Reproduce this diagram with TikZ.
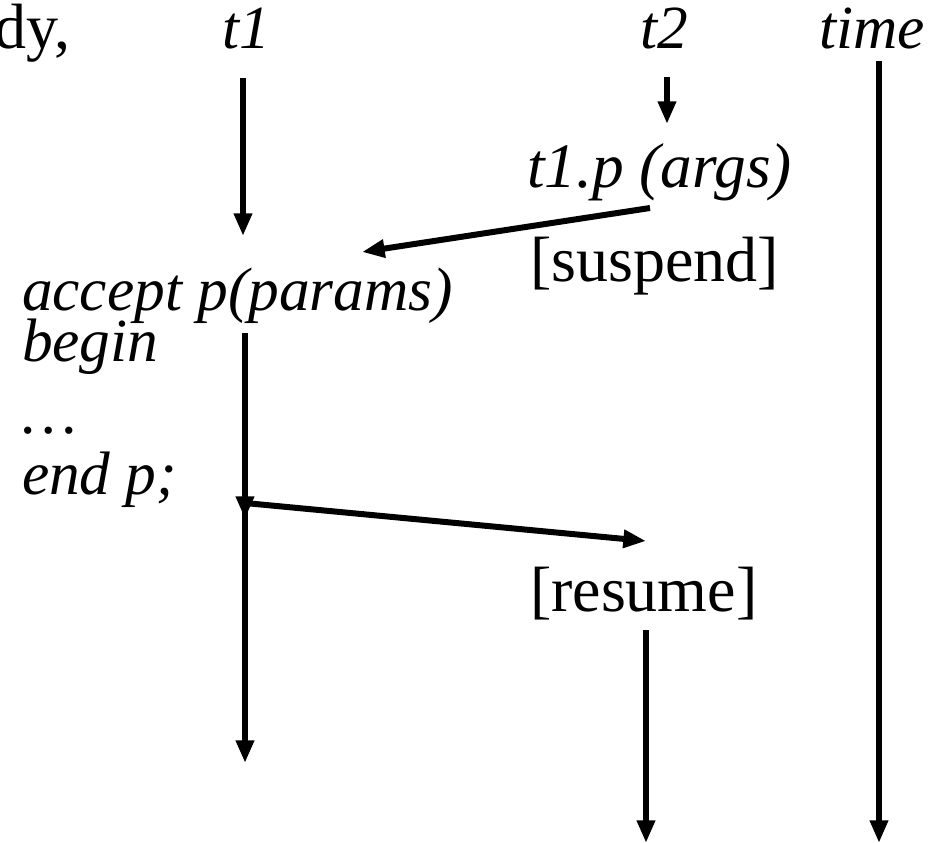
\documentclass[tikz,border=0pt]{standalone}
\usepackage{fontspec}
\setmainfont{Liberation Serif}
\usetikzlibrary{arrows.meta}
\begin{document}
\begin{tikzpicture}[x=0.75pt,y=-0.75pt,
  lbl/.style={inner sep=0pt,outer sep=0pt,font=\fontsize{48}{52}\selectfont},
  ilbl/.style={inner sep=0pt,outer sep=0pt,font=\fontsize{46}{50}\selectfont\itshape},
  arr/.style={line width=4.5pt,-{Triangle[width=13pt,length=17pt]}},
  ln/.style={line width=4.5pt}]
\useasboundingbox (0,0) rectangle (940,843);
% labels
\node[lbl,anchor=base east] (dy) at (70,48) {dy,};
\node[ilbl,anchor=base west] (t1) at (222,48) {t1};
\node[ilbl,anchor=base west] (t2) at (640,48) {t2};
\node[ilbl,anchor=base west] (time) at (819,48) {time};
\node[ilbl,anchor=base west,font=\fontsize{47.5}{50}\selectfont\itshape] (call) at (527,187) {t1.p (args)};
\node[lbl,anchor=base west] (susp) at (530,281) {[suspend]};
\node[ilbl,anchor=base west] (acc) at (22,310) {accept p(params)};
\node[ilbl,anchor=base west] (beg) at (22,361) {begin};
\node[ilbl,anchor=base west] (dots) at (22,433) {…};
\node[ilbl,anchor=base west] (endp) at (22,494) {end p;};
\node[lbl,anchor=base west] (res) at (530,611) {[resume]};
% coordinates
\coordinate (a1s) at (243,78);
\coordinate (a1e) at (243,236);
\coordinate (a2s) at (667,77);
\coordinate (a2e) at (667,124);
\coordinate (cs) at (650,208);
\coordinate (ce) at (362,252);
\coordinate (bs) at (245,333);
\coordinate (bj) at (245,503);
\coordinate (bm) at (245,519);
\coordinate (be) at (245,763);
\coordinate (re) at (646,541);
\coordinate (rs) at (646,630);
\coordinate (rend) at (646,843);
\coordinate (ts) at (879,61);
\coordinate (te) at (879,843);
% arrows
\draw[arr] (a1s) -- (a1e);
\draw[arr] (a2s) -- (a2e);
\draw[arr] (cs) -- (ce);
\draw[arr] (bs) -- (bm);
\draw[arr] (bj) -- (be);
\draw[arr] (bj) -- (re);
\draw[arr] (rs) -- (rend);
\draw[arr] (ts) -- (te);
\end{tikzpicture}
\end{document}
